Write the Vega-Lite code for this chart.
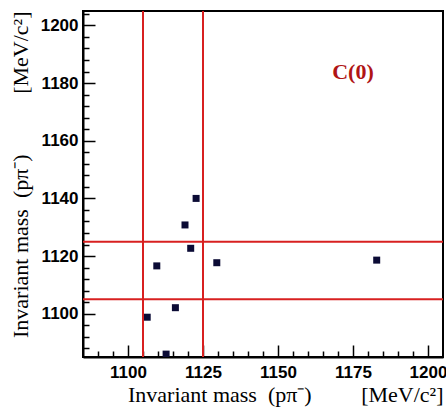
{
  "$schema": "https://vega.github.io/schema/vega-lite/v6.json",
  "width": 360,
  "height": 346,
  "autosize": "none",
  "padding": {"left": 83, "top": 11, "right": 3, "bottom": 53},
  "background": "white",
  "config": {
    "view": {"stroke": "black", "strokeWidth": 2},
    "axis": {
      "domainColor": "black",
      "domainWidth": 2,
      "tickColor": "black",
      "tickWidth": 1.5,
      "grid": false,
      "labelFont": "Liberation Sans",
      "labelFontWeight": "bold",
      "labelFontSize": 17,
      "labelColor": "black",
      "labelFlush": false,
      "titleFont": "Liberation Serif",
      "titleFontWeight": "normal",
      "titleFontSize": 22,
      "titleColor": "black",
      "titleAnchor": "end"
    }
  },
  "datasets": {
    "events": [
      {"mx": 1122.7, "my": 1140.0},
      {"mx": 1119.0, "my": 1130.8},
      {"mx": 1120.9, "my": 1122.7},
      {"mx": 1109.6, "my": 1116.6},
      {"mx": 1129.6, "my": 1117.7},
      {"mx": 1115.8, "my": 1102.1},
      {"mx": 1106.4, "my": 1098.8},
      {"mx": 1112.7, "my": 1086.0},
      {"mx": 1182.9, "my": 1118.6}
    ],
    "cutsX": [{"mx": 1105}, {"mx": 1125}],
    "cutsY": [{"my": 1105}, {"my": 1125}],
    "label": [{"mx": 1175, "my": 1183.8, "text": "C(0)"}]
  },
  "layer": [
    {
      "data": {"name": "events"},
      "mark": {"type": "point", "shape": "square", "filled": true, "size": 49, "color": "#0b0b35", "opacity": 1, "clip": true},
      "encoding": {
        "x": {
          "field": "mx", "type": "quantitative",
          "scale": {"domain": [1085, 1205], "nice": false, "zero": false},
          "axis": {
            "values": [1090, 1095, 1100, 1105, 1110, 1115, 1120, 1125, 1130, 1135, 1140, 1145, 1150, 1155, 1160, 1165, 1170, 1175, 1180, 1185, 1190, 1195, 1200],
            "labelExpr": "datum.value % 25 === 0 ? datum.label : ''",
            "format": "d",
            "tickSize": {"condition": {"test": "datum.value % 25 === 0", "value": -12}, "value": -6},
            "labelPadding": 19,
            "titlePadding": 4,
            "title": "Invariant mass\u00a0\u00a0(pπ⁻)\u00a0\u00a0\u00a0\u00a0\u00a0\u00a0\u00a0\u00a0\u00a0[MeV/c²]\u00a0"
          }
        },
        "y": {
          "field": "my", "type": "quantitative",
          "scale": {"domain": [1085, 1205], "nice": false, "zero": false},
          "axis": {
            "values": [1088, 1092, 1096, 1100, 1104, 1108, 1112, 1116, 1120, 1124, 1128, 1132, 1136, 1140, 1144, 1148, 1152, 1156, 1160, 1164, 1168, 1172, 1176, 1180, 1184, 1188, 1192, 1196, 1200, 1204],
            "labelExpr": "datum.value % 20 === 0 ? datum.label : ''",
            "format": "d",
            "tickSize": {"condition": {"test": "datum.value % 20 === 0", "value": -12}, "value": -6},
            "labelPadding": 17,
            "titlePadding": 8,
            "title": "Invariant mass\u00a0\u00a0(pπ⁻)\u00a0\u00a0\u00a0\u00a0\u00a0\u00a0\u00a0\u00a0\u00a0\u00a0\u00a0[MeV/c²]\u00a0"
          }
        }
      }
    },
    {
      "data": {"name": "cutsX"},
      "mark": {"type": "rule", "color": "#d82020", "strokeWidth": 2},
      "encoding": {
        "x": {
          "field": "mx", "type": "quantitative",
          "scale": {"domain": [1085, 1205], "nice": false, "zero": false},
          "axis": {
            "values": [1090, 1095, 1100, 1105, 1110, 1115, 1120, 1125, 1130, 1135, 1140, 1145, 1150, 1155, 1160, 1165, 1170, 1175, 1180, 1185, 1190, 1195, 1200],
            "labelExpr": "datum.value % 25 === 0 ? datum.label : ''",
            "format": "d",
            "tickSize": {"condition": {"test": "datum.value % 25 === 0", "value": -12}, "value": -6},
            "labelPadding": 19,
            "titlePadding": 4,
            "title": "Invariant mass\u00a0\u00a0(pπ⁻)\u00a0\u00a0\u00a0\u00a0\u00a0\u00a0\u00a0\u00a0\u00a0[MeV/c²]\u00a0"
          }
        }
      }
    },
    {
      "data": {"name": "cutsY"},
      "mark": {"type": "rule", "color": "#d82020", "strokeWidth": 2},
      "encoding": {
        "y": {
          "field": "my", "type": "quantitative",
          "scale": {"domain": [1085, 1205], "nice": false, "zero": false},
          "axis": {
            "values": [1088, 1092, 1096, 1100, 1104, 1108, 1112, 1116, 1120, 1124, 1128, 1132, 1136, 1140, 1144, 1148, 1152, 1156, 1160, 1164, 1168, 1172, 1176, 1180, 1184, 1188, 1192, 1196, 1200, 1204],
            "labelExpr": "datum.value % 20 === 0 ? datum.label : ''",
            "format": "d",
            "tickSize": {"condition": {"test": "datum.value % 20 === 0", "value": -12}, "value": -6},
            "labelPadding": 17,
            "titlePadding": 8,
            "title": "Invariant mass\u00a0\u00a0(pπ⁻)\u00a0\u00a0\u00a0\u00a0\u00a0\u00a0\u00a0\u00a0\u00a0\u00a0\u00a0[MeV/c²]\u00a0"
          }
        }
      }
    },
    {
      "data": {"name": "label"},
      "mark": {"type": "text", "font": "Liberation Serif", "fontWeight": "bold", "fontSize": 22, "color": "#b01515"},
      "encoding": {
        "x": {
          "field": "mx", "type": "quantitative",
          "scale": {"domain": [1085, 1205], "nice": false, "zero": false},
          "axis": {
            "values": [1090, 1095, 1100, 1105, 1110, 1115, 1120, 1125, 1130, 1135, 1140, 1145, 1150, 1155, 1160, 1165, 1170, 1175, 1180, 1185, 1190, 1195, 1200],
            "labelExpr": "datum.value % 25 === 0 ? datum.label : ''",
            "format": "d",
            "tickSize": {"condition": {"test": "datum.value % 25 === 0", "value": -12}, "value": -6},
            "labelPadding": 19,
            "titlePadding": 4,
            "title": "Invariant mass\u00a0\u00a0(pπ⁻)\u00a0\u00a0\u00a0\u00a0\u00a0\u00a0\u00a0\u00a0\u00a0[MeV/c²]\u00a0"
          }
        },
        "y": {
          "field": "my", "type": "quantitative",
          "scale": {"domain": [1085, 1205], "nice": false, "zero": false},
          "axis": {
            "values": [1088, 1092, 1096, 1100, 1104, 1108, 1112, 1116, 1120, 1124, 1128, 1132, 1136, 1140, 1144, 1148, 1152, 1156, 1160, 1164, 1168, 1172, 1176, 1180, 1184, 1188, 1192, 1196, 1200, 1204],
            "labelExpr": "datum.value % 20 === 0 ? datum.label : ''",
            "format": "d",
            "tickSize": {"condition": {"test": "datum.value % 20 === 0", "value": -12}, "value": -6},
            "labelPadding": 17,
            "titlePadding": 8,
            "title": "Invariant mass\u00a0\u00a0(pπ⁻)\u00a0\u00a0\u00a0\u00a0\u00a0\u00a0\u00a0\u00a0\u00a0\u00a0\u00a0[MeV/c²]\u00a0"
          }
        },
        "text": {"field": "text"}
      }
    }
  ]
}
